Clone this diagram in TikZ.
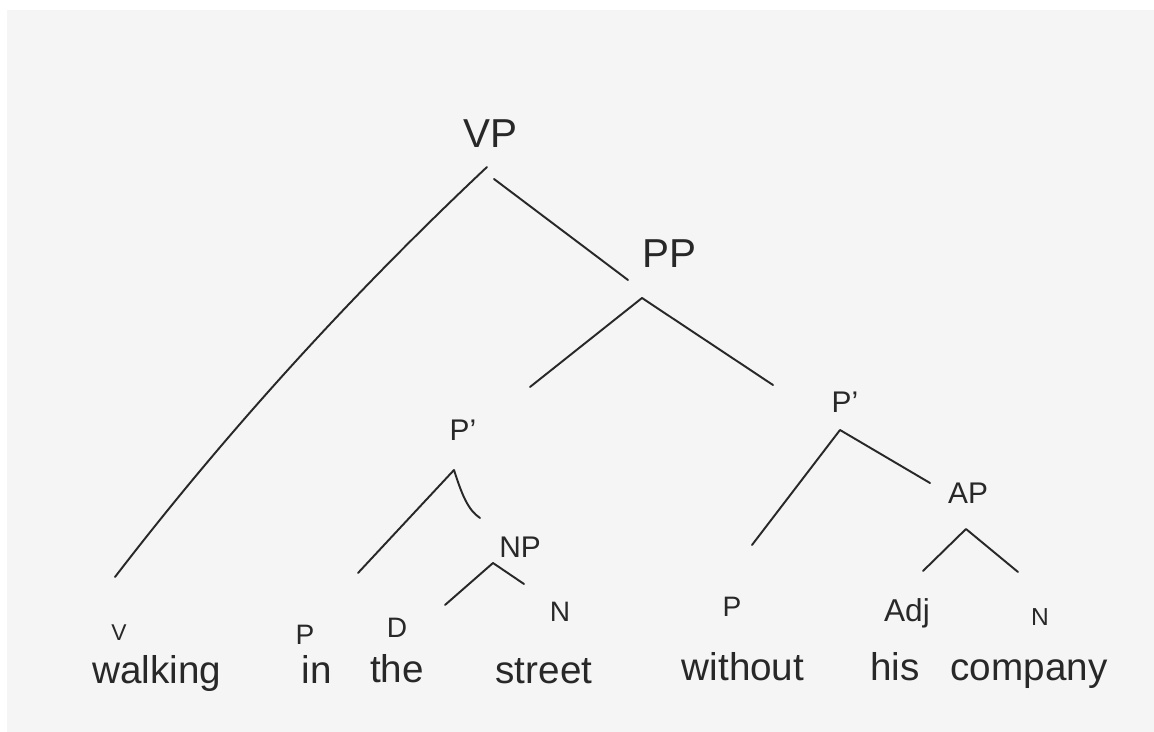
\documentclass[tikz,border=0pt]{standalone}
\usepackage{fontspec}
\setmainfont{Liberation Sans}
\usepackage{xcolor}
\usetikzlibrary{positioning}
\definecolor{paper}{RGB}{245,245,245}
\definecolor{pencil}{RGB}{40,40,40}

\begin{document}
\begin{tikzpicture}[
  x=0.02cm, y=-0.02cm,
  phrase/.style={text=pencil, inner sep=1pt, font=\fontsize{17}{19}\selectfont},
  bigphrase/.style={phrase, font=\fontsize{23}{25}\selectfont},
  cat/.style={text=pencil, inner sep=1pt, font=\fontsize{16}{18}\selectfont},
  word/.style={text=pencil, inner sep=0pt, anchor=base, font=\fontsize{22}{26}\selectfont},
  branch/.style={draw=pencil, line width=1.1pt, line cap=round, line join=round}
]
\fill[white] (0,0) rectangle (1154,732);
\fill[paper] (7,10) rectangle (1154,732);
\useasboundingbox (0,0) rectangle (1154,732);

% phrase labels
\node[bigphrase] (vp) at (490,134) {VP};
\node[bigphrase] (pp) at (669,254) {PP};
\node[phrase] (pbarL) at (463,430) {P'};
\node[phrase] (np) at (520,547) {NP};
\node[phrase] (pbarR) at (845,402) {P'};
\node[phrase] (ap) at (968,493) {AP};

% categories
\node[cat, font=\fontsize{13}{15}\selectfont] (catV) at (119,633) {V};
\node[cat] (catP1) at (305,635) {P};
\node[cat] (catD) at (397,628) {D};
\node[cat] (catN1) at (560,612) {N};
\node[cat] (catP2) at (732,607) {P};
\node[cat, font=\fontsize{18}{20}\selectfont] (catAdj) at (907,613) {Adj};
\node[cat, font=\fontsize{14}{16}\selectfont] (catN2) at (1040,617) {N};

% words
\node[word] (wWalking) at (157,684) {walking};
\node[word] (wIn) at (317,684) {in};
\node[word] (wThe) at (397,683) {the};
\node[word] (wStreet) at (544,684) {street};
\node[word] (wWithout) at (743,681) {without};
\node[word] (wHis) at (895,681) {his};
\node[word] (wCompany) at (1029,681) {company};

% branch ends
\coordinate (vpTop) at (487,167);
\coordinate (vpRight) at (494,179);
\coordinate (vEnd) at (115,577);
\coordinate (ppEnd) at (628,280);
\coordinate (ppTop) at (642,298);
\coordinate (ppLeftEnd) at (530,387);
\coordinate (ppRightEnd) at (773,385);
\coordinate (pbarLTop) at (454,470);
\coordinate (pEnd) at (358,573);
\coordinate (npEnd) at (480,518);
\coordinate (npTop) at (493,563);
\coordinate (dEnd) at (445,605);
\coordinate (nEnd) at (524,584);
\coordinate (pbarRTop) at (840,430);
\coordinate (withoutEnd) at (752,545);
\coordinate (apEnd) at (930,483);
\coordinate (apTop) at (966,529);
\coordinate (adjEnd) at (923,571);
\coordinate (companyEnd) at (1018,572);

\draw[branch] (vEnd) .. controls (228,430) and (352,294) .. (vpTop);
\draw[branch] (vpRight) -- (ppEnd);
\draw[branch] (ppLeftEnd) -- (ppTop) -- (ppRightEnd);
\draw[branch] (pEnd) -- (pbarLTop) .. controls (462,495) and (468,510) .. (npEnd);
\draw[branch] (dEnd) -- (npTop) -- (nEnd);
\draw[branch] (withoutEnd) -- (pbarRTop) -- (apEnd);
\draw[branch] (adjEnd) -- (apTop) -- (companyEnd);
\end{tikzpicture}
\end{document}
